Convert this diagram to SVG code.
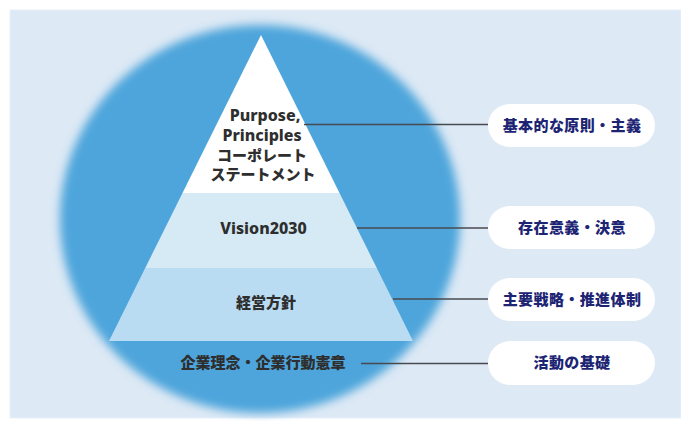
<svg xmlns="http://www.w3.org/2000/svg" width="681" height="421" viewBox="0 0 681 421">
  <defs>
    <filter id="soft" x="-10%" y="-10%" width="120%" height="120%">
      <feGaussianBlur stdDeviation="5"/>
    </filter>
    <style>
      .pill { fill: #ffffff; }
      .ptxt { font-family: "Noto Sans CJK JP", "Noto Sans", sans-serif; font-weight: 900; font-size: 15px; fill: #1c2473; text-anchor: middle; letter-spacing: 0.4px; }
      .ytxt { font-family: "Noto Sans", "Noto Sans CJK JP", sans-serif; font-weight: 900; font-size: 15px; fill: #2e2e2e; text-anchor: middle; }
      .ltxt { font-family: "Noto Sans", "Open Sans", sans-serif; font-weight: 800; font-size: 16px; fill: #2e2e2e; text-anchor: middle; }
      .conn { stroke: #474a4f; stroke-width: 1.5; fill: none; }
    </style>
  </defs>

  <rect x="0" y="0" width="681" height="421" fill="#ffffff"/>
  <rect x="10" y="10" width="671" height="408" fill="#dde9f5" stroke="#e8f1fa" stroke-width="1"/>

  <ellipse cx="260" cy="219" rx="200" ry="194" fill="#4ea5db" filter="url(#soft)"/>

  <g id="pyramid">
    <g id="layer-top">
      <polygon points="261,35 339.5,193 182.5,193" fill="#ffffff"/>
      <text class="ltxt" x="265" y="121">Purpose,</text>
      <text class="ltxt" x="262" y="141">Principles</text>
      <text class="ytxt" x="262" y="161">コーポレート</text>
      <text class="ytxt" x="263" y="180">ステートメント</text>
    </g>
    <g id="layer-vision">
      <polygon points="182.5,193 339.5,193 376.8,268 145.2,268" fill="#d5eaf4"/>
      <text class="ltxt" x="263.5" y="234">Vision2030</text>
    </g>
    <g id="layer-policy">
      <polygon points="145.2,268 376.8,268 413,341 109,341" fill="#b9dcf2"/>
      <text class="ytxt" x="266" y="308">経営方針</text>
    </g>
    <g id="layer-base">
      <text class="ytxt" x="263" y="368">企業理念・企業行動憲章</text>
    </g>
  </g>

  <g id="connectors">
    <line class="conn" x1="304" y1="124.5" x2="488" y2="124.5"/>
    <line class="conn" x1="357" y1="228" x2="488" y2="228"/>
    <line class="conn" x1="393" y1="299" x2="488" y2="299"/>
    <line class="conn" x1="361" y1="363.5" x2="488" y2="363.5"/>
  </g>

  <g id="pill-1">
    <rect class="pill" x="488" y="104" width="167" height="43" rx="21.5"/>
    <text class="ptxt" x="572" y="130.5">基本的な原則・主義</text>
  </g>
  <g id="pill-2">
    <rect class="pill" x="488" y="206" width="167" height="43" rx="21.5"/>
    <text class="ptxt" x="572" y="232.5">存在意義・決意</text>
  </g>
  <g id="pill-3">
    <rect class="pill" x="488" y="278" width="167" height="43" rx="21.5"/>
    <text class="ptxt" x="572" y="304.5">主要戦略・推進体制</text>
  </g>
  <g id="pill-4">
    <rect class="pill" x="488" y="341" width="167" height="44" rx="22"/>
    <text class="ptxt" x="572" y="368">活動の基礎</text>
  </g>
</svg>
